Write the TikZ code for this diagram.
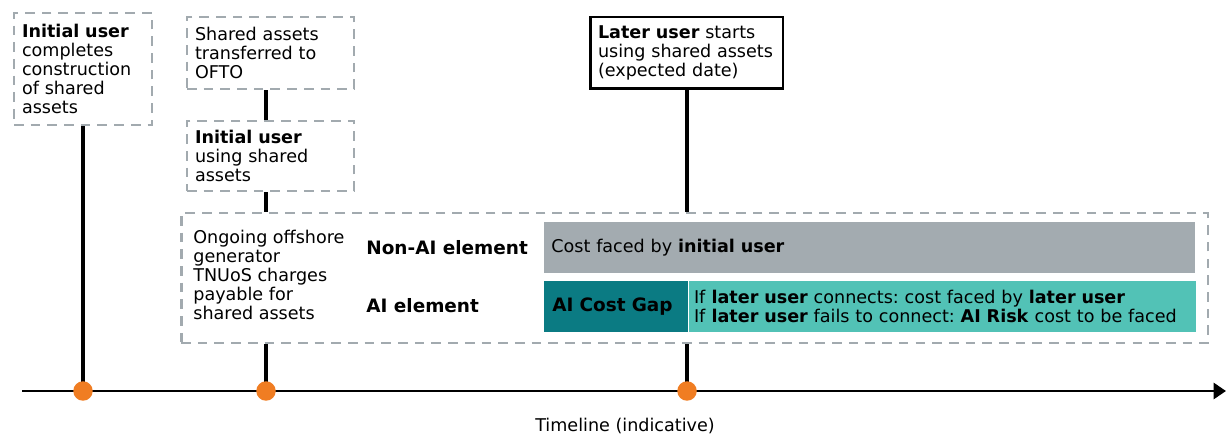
\documentclass[tikz,border=0pt]{standalone}
\usepackage{fontspec}
\setmainfont{DejaVu Sans}
\usetikzlibrary{arrows.meta,positioning,calc}
\definecolor{dashgray}{HTML}{A2AAAF}
\definecolor{bargray}{HTML}{A3ABB0}
\definecolor{darkteal}{HTML}{0B7B83}
\definecolor{lightteal}{HTML}{52C2B6}
\definecolor{dotorange}{HTML}{F07D22}
\frenchspacing

\begin{document}
\begin{tikzpicture}[x=0.02cm,y=-0.02cm,font=\fontsize{10}{10.8}\selectfont,>={Triangle[length=7pt,width=9pt]},
  evbox/.style={draw=dashgray,line width=1.6pt,dash pattern=on 5.5pt off 4pt,align=left,inner xsep=0.16cm,inner ysep=0pt},
  laterbox/.style={draw=black,line width=1.7pt,align=left,inner xsep=0.16cm,inner ysep=0pt},
  conn/.style={draw=black,line width=2pt},
  bar/.style={inner ysep=0pt,minimum height=1.02cm,align=left},
  dot/.style={circle,fill=dotorange,minimum size=0.39cm,inner sep=0pt}]
\useasboundingbox (0,0) rectangle (1226,435);
\coordinate (t1) at (83,391);
\coordinate (t2) at (266,391);
\coordinate (t3) at (687,391);
\coordinate (tlstart) at (22,391);
\coordinate (tlend) at (1226,391);
\node[evbox,text width=2.44cm,minimum height=2.24cm] (box1) at (83,69)
  {\textbf{Initial user}\\completes\\construction\\of shared\\assets};
\node[evbox,text width=3.02cm,minimum height=1.44cm] (box2) at (270.5,53)
  {Shared assets\\transferred to\\OFTO};
\node[evbox,text width=3.02cm,minimum height=1.4cm] (box3) at (270.5,156)
  {\textbf{Initial user}\\using shared\\assets};
\node[laterbox,text width=3.54cm,minimum height=1.44cm] (box4) at (686.5,53)
  {\textbf{Later user} starts\\using shared assets\\(expected date)};
\node[evbox,minimum width=20.54cm,minimum height=2.6cm,inner sep=0pt] (panel) at (694.5,278) {};
\node[anchor=west,align=left,inner sep=0pt] (charges) at (193,275)
  {Ongoing offshore\\generator\\TNUoS charges\\payable for\\shared assets};
\node[anchor=west,inner sep=0pt,font=\fontsize{10.5}{11}\selectfont\bfseries] (nonai) at (366,248) {Non-AI element};
\node[anchor=west,inner sep=0pt,font=\fontsize{10.5}{11}\selectfont\bfseries] (ai) at (366,306) {AI element};
\node[bar,fill=bargray,anchor=north west,text width=12.74cm,inner xsep=0.14cm] (nonaibar) at (544,222)
  {Cost faced by \textbf{initial user}};
\node[bar,fill=darkteal,anchor=north west,text width=2.56cm,inner xsep=0.16cm,font=\fontsize{10.5}{11}\selectfont] (gap) at (544,281)
  {\textbf{AI Cost Gap}};
\node[bar,fill=lightteal,anchor=west,text width=9.94cm,inner xsep=0.1cm] (risk) at (gap.east)
  {If \textbf{later user} connects: cost faced by \textbf{later user}\\If \textbf{later user} fails to connect: \textbf{AI Risk} cost to be faced};
\draw[->,line width=1.7pt] (tlstart) -- (tlend);
\draw[conn] (box1.south) -- (t1);
\draw[conn] (t2 |- box2.south) -- (t2 |- box3.north);
\draw[conn] (t2 |- box3.south) -- (t2 |- panel.north);
\draw[conn] (t2 |- panel.south) -- (t2);
\draw[conn] (t3 |- box4.south) -- (t3 |- panel.north);
\draw[conn] (t3 |- panel.south) -- (t3);
\node[dot] (d1) at (t1) {};
\node[dot] (d2) at (t2) {};
\node[dot] (d3) at (t3) {};
\node (tllabel) at (625,426) {Timeline (indicative)};
\end{tikzpicture}
\end{document}
